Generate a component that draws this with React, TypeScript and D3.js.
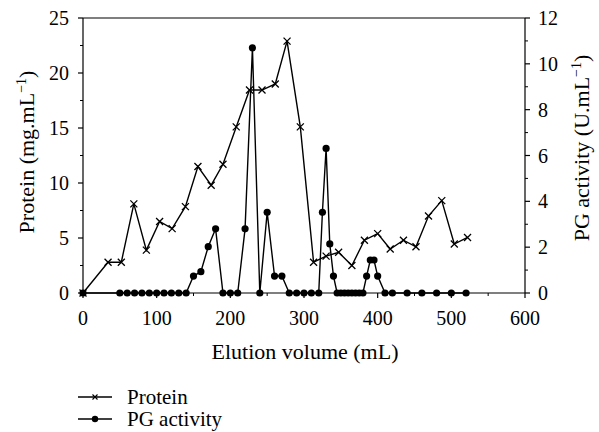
import React, { useEffect, useRef } from "react";
import * as d3 from "d3";

const proteinX = [0, 34, 52, 69, 86, 104, 121, 139, 156, 174, 190, 208, 226, 243, 261, 277, 295, 313, 330, 347, 365, 382, 400, 417, 435, 452, 469, 487, 504, 522];
const proteinY = [0, 2.8, 2.8, 8.1, 3.9, 6.5, 5.85, 7.85, 11.5, 9.8, 11.7, 15.1, 18.45, 18.45, 19.0, 22.9, 15.1, 2.8, 3.35, 3.7, 2.5, 4.8, 5.4, 4.0, 4.8, 4.2, 7.0, 8.4, 4.45, 5.05];

const pgX = [0, 50, 60, 70, 80, 90, 100, 110, 120, 130, 140, 150, 160, 170, 180, 190, 200, 210, 220, 230, 240, 250, 260, 270, 280, 290, 300, 310, 320, 325, 330, 335, 340, 345, 350, 355, 360, 365, 370, 375, 380, 385, 390, 395, 400, 410, 420, 440, 460, 480, 500, 520];
const pgY = [0, 0, 0, 0, 0, 0, 0, 0, 0, 0, 0, 0.74, 0.93, 2.02, 2.8, 0, 0, 0, 2.8, 10.7, 0, 3.52, 0.74, 0.74, 0, 0, 0, 0, 0, 3.52, 6.31, 2.14, 0.74, 0, 0, 0, 0, 0, 0, 0, 0, 0.74, 1.44, 1.44, 0.74, 0, 0, 0, 0, 0, 0, 0];

const xTicks = [0, 100, 200, 300, 400, 500, 600];
const yLeftTicks = [0, 5, 10, 15, 20, 25];
const yRightTicks = [0, 2, 4, 6, 8, 10, 12];

export default function App() {
  const ref = useRef<SVGSVGElement>(null);
  const left = 83, right = 525, top = 18, bottom = 293;
  const x = d3.scaleLinear().domain([0, 600]).range([left, right]);
  const yL = d3.scaleLinear().domain([0, 25]).range([bottom, top]);
  const yR = d3.scaleLinear().domain([0, 12]).range([bottom, top]);

  useEffect(() => {
    if (!ref.current) return;
    d3.select(ref.current).selectAll("text")
      .attr("font-family", "Liberation Serif")
      .style("font-family", "'Liberation Serif'");
  }, []);

  const protein = proteinX.map((v, i) => [v, proteinY[i]] as [number, number]);
  const pg = pgX.map((v, i) => [v, pgY[i]] as [number, number]);

  const lineP = d3.line<[number, number]>().x(d => x(d[0])).y(d => yL(d[1]));
  const lineG = d3.line<[number, number]>().x(d => x(d[0])).y(d => yR(d[1]));

  const xMinor = d3.range(50, 600, 100);
  const yLMinor = d3.range(2.5, 25, 5);
  const yRMinor = d3.range(1, 12, 2);
  const fs = 20;
  const tfs = 22;
  const cross = (cx: number, cy: number, s: number, k: string, w = 1.3) => (
    <path key={k} d={`M${cx - s},${cy - s}L${cx + s},${cy + s}M${cx - s},${cy + s}L${cx + s},${cy - s}`} stroke="#000" strokeWidth={w} fill="none" />
  );

  return (
    <svg ref={ref} width={599} height={432} style={{ position: "absolute", left: 0, top: 0, background: "#fff" }}>
      <rect x={0} y={0} width={599} height={432} fill="#fff" />
      <line x1={left} x2={right} y1={top} y2={top} stroke="#000" strokeWidth={1.2} />
      <line x1={left} x2={right} y1={bottom} y2={bottom} stroke="#000" strokeWidth={1.2} />
      <line x1={left} x2={left} y1={top} y2={bottom} stroke="#000" strokeWidth={1.2} />
      <line x1={right} x2={right} y1={top} y2={bottom} stroke="#000" strokeWidth={1.2} />

      {xTicks.map(t => (
        <g key={"xt" + t}>
          <line x1={x(t)} x2={x(t)} y1={bottom} y2={bottom + 5} stroke="#000" strokeWidth={1.2} />
          <text x={x(t)} y={bottom + 32} fontSize={fs} textAnchor="middle" style={{ fontFamily: "'Liberation Serif'" }}>{`${t}`}</text>
        </g>
      ))}
      {xMinor.map(t => (
        <line key={"xm" + t} x1={x(t)} x2={x(t)} y1={bottom} y2={bottom + 3} stroke="#000" strokeWidth={1} />
      ))}

      {yLeftTicks.map(t => (
        <g key={"yl" + t}>
          <line x1={left - 5} x2={left} y1={yL(t)} y2={yL(t)} stroke="#000" strokeWidth={1.2} />
          <text x={left - 14} y={yL(t) + 7} fontSize={fs} textAnchor="end" style={{ fontFamily: "'Liberation Serif'" }}>{`${t}`}</text>
        </g>
      ))}
      {yLMinor.map(t => (
        <line key={"ylm" + t} x1={left - 3} x2={left} y1={yL(t)} y2={yL(t)} stroke="#000" strokeWidth={1} />
      ))}

      {yRightTicks.map(t => (
        <g key={"yr" + t}>
          <line x1={right} x2={right + 5} y1={yR(t)} y2={yR(t)} stroke="#000" strokeWidth={1.2} />
          <text x={right + 13} y={yR(t) + 7} fontSize={fs} textAnchor="start" style={{ fontFamily: "'Liberation Serif'" }}>{`${t}`}</text>
        </g>
      ))}
      {yRMinor.map(t => (
        <line key={"yrm" + t} x1={right} x2={right + 3} y1={yR(t)} y2={yR(t)} stroke="#000" strokeWidth={1} />
      ))}

      <path d={lineP(protein) || ""} fill="none" stroke="#000" strokeWidth={1.4} />
      {protein.map((d, i) => cross(x(d[0]), yL(d[1]), 3.5, "p" + i))}
      <path d={lineG(pg) || ""} fill="none" stroke="#000" strokeWidth={1.4} />
      {pg.map((d, i) => (
        <circle key={"g" + i} cx={x(d[0])} cy={yR(d[1])} r={3.6} fill="#000" />
      ))}

      <text x={305} y={359} fontSize={tfs} textAnchor="middle" style={{ fontFamily: "'Liberation Serif'" }}>Elution volume (mL)</text>
      <text transform="translate(34,152) rotate(-90)" fontSize={tfs} textAnchor="middle" style={{ fontFamily: "'Liberation Serif'" }}>
        Protein (mg.mL<tspan dy={-8} fontSize={14}>−1</tspan><tspan dy={8}>)</tspan>
      </text>
      <text transform="translate(589,148) rotate(-90)" fontSize={tfs} textAnchor="middle" style={{ fontFamily: "'Liberation Serif'" }}>
        PG activity (U.mL<tspan dy={-8} fontSize={14}>−1</tspan><tspan dy={8}>)</tspan>
      </text>

      <line x1={78} x2={112} y1={397} y2={397} stroke="#000" strokeWidth={1.4} />
      {cross(95, 397, 2.5, "lc", 1.1)}
      <text x={127} y={404} fontSize={21} style={{ fontFamily: "'Liberation Serif'" }}>Protein</text>
      <line x1={78} x2={112} y1={419} y2={419} stroke="#000" strokeWidth={1.4} />
      <circle cx={95} cy={419} r={3.2} fill="#000" />
      <text x={127} y={426} fontSize={21} style={{ fontFamily: "'Liberation Serif'" }}>PG activity</text>
    </svg>
  );
}
